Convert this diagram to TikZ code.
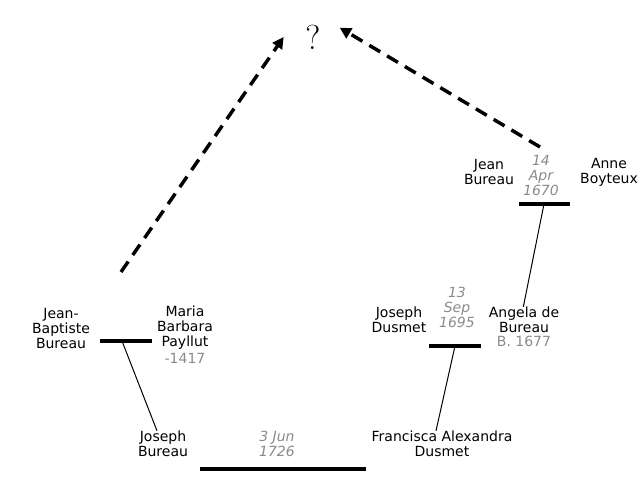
\documentclass[tikz,border=0pt]{standalone}
\usepackage{fontspec}
\setsansfont{DejaVu Sans}
\usetikzlibrary{positioning, arrows.meta, calc}
\definecolor{dategrey}{HTML}{8A8A8A}

\tikzset{
  person/.style={align=center, inner sep=0pt, font=\sffamily\fontsize{10.5}{11.25}\selectfont},
  wedding/.style={person, text=dategrey, font=\sffamily\itshape\fontsize{10.5}{11.25}\selectfont},
  lifespan/.style={person, text=dategrey},
  marriage/.style={line width=3pt},
  descent/.style={line width=0.75pt},
  unknown/.style={line width=2.6pt, dash pattern=on 9.5pt off 6pt,
    -{Triangle[length=8.5pt, width=8.5pt]}}
}

\begin{document}
\begin{tikzpicture}[x=0.75pt, y=-0.75pt]
  \useasboundingbox (0,0) rectangle (640,497);
  % the unknown ancestor
  \node[font=\fontsize{26}{28}\selectfont] (query) at (313,37) {?};

  % top right couple
  \node[person] (jean) at (489,172) {Jean\\Bureau};
  \node[wedding] (d1670) at (541,175) {14\\Apr\\1670};
  \node[person] (anne) at (609,172) {Anne\\Boyteux};
  \coordinate (m1670w) at (519,204);
  \coordinate (m1670e) at (570,204);
  \coordinate (m1670) at (544,204);

  % middle right couple
  \node[person] (jdusmet) at (399,320) {Joseph\\Dusmet};
  \node[wedding] (d1695) at (457,307) {13\\Sep\\1695};
  \node[person] (angela) at (524,320) {Angela de\\Bureau};
  \node[lifespan, below=2pt of angela] (angelab) {B. 1677};
  \coordinate (m1695w) at (429,346);
  \coordinate (m1695e) at (481,346);
  \coordinate (m1695) at (455,346);

  % left couple
  \node[person] (jbaptiste) at (61,328) {Jean-\\Baptiste\\Bureau};
  \node[person] (maria) at (185,328) {Maria\\Barbara\\Payllut};
  \node[lifespan, below=2pt of maria] (mariad) {-1417};
  \coordinate (m1417w) at (100,341);
  \coordinate (m1417e) at (152,341);
  \coordinate (m1417) at (122,341);

  % bottom couple
  \node[person] (jbureau) at (163,444) {Joseph\\Bureau};
  \node[wedding] (d1726) at (277,444) {3 Jun\\1726};
  \node[person] (francisca) at (442,444) {Francisca Alexandra\\Dusmet};
  \coordinate (m1726w) at (200,469);
  \coordinate (m1726e) at (366,469);

  \coordinate (guessl) at (121,272);
  \coordinate (guessr) at (540,147);

  \draw[marriage] (m1670w) -- (m1670e);
  \draw[marriage] (m1695w) -- (m1695e);
  \draw[marriage] (m1417w) -- (m1417e);
  \draw[marriage] (m1726w) -- (m1726e);

  \draw[descent] (m1670) -- ([xshift=-0.5pt]angela.north);
  \draw[descent] (m1695) -- ([xshift=-4.5pt]francisca.north);
  \draw[descent] (m1417) -- ([xshift=-4.5pt]jbureau.north);

  \draw[unknown] (guessl) -- ([xshift=-22pt,yshift=0pt]query.center);
  \draw[unknown] (guessr) -- ([xshift=20pt,yshift=7pt]query.center);
\end{tikzpicture}
\end{document}
